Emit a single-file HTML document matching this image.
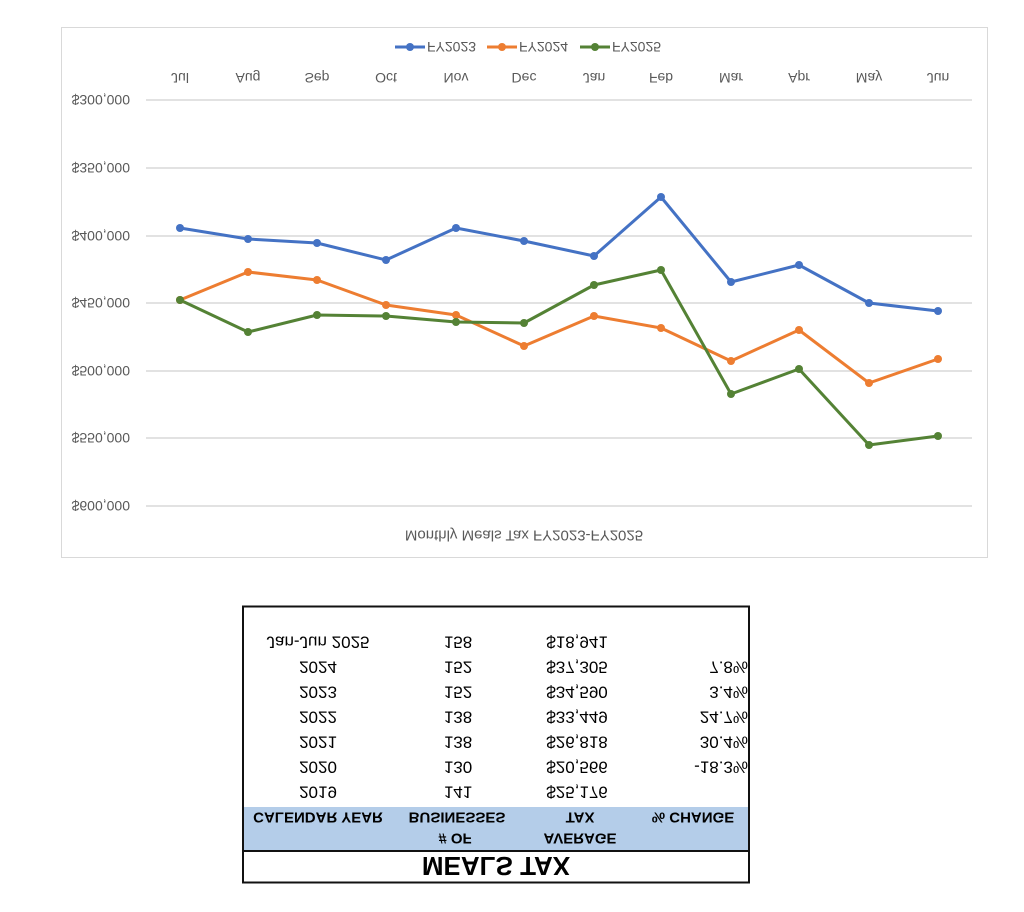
<!DOCTYPE html>
<html><head><meta charset="utf-8"><style>
html,body{margin:0;padding:0;background:#fff;}
svg{display:block;font-family:"Liberation Sans",Arial,sans-serif;}
</style></head><body>
<svg width="1024" height="912" viewBox="0 0 1024 912" xmlns="http://www.w3.org/2000/svg">
<rect x="61.5" y="27.5" width="926" height="530" fill="#fff" stroke="#d9d9d9"/>
<g stroke="#d9d9d9" stroke-width="1.5">
<line x1="146" x2="972" y1="100" y2="100"/><line x1="146" x2="972" y1="168" y2="168"/>
<line x1="146" x2="972" y1="236" y2="236"/><line x1="146" x2="972" y1="303" y2="303"/>
<line x1="146" x2="972" y1="371" y2="371"/><line x1="146" x2="972" y1="438" y2="438"/>
<line x1="146" x2="972" y1="506" y2="506"/>
</g>
<g font-size="14" fill="#595959" dominant-baseline="central" text-anchor="end">
<text transform="translate(130,100) scale(1,-1)">$300,000</text>
<text transform="translate(130,168) scale(1,-1)">$350,000</text>
<text transform="translate(130,236) scale(1,-1)">$400,000</text>
<text transform="translate(130,303) scale(1,-1)">$450,000</text>
<text transform="translate(130,371) scale(1,-1)">$500,000</text>
<text transform="translate(130,438) scale(1,-1)">$550,000</text>
<text transform="translate(130,506) scale(1,-1)">$600,000</text>
</g>
<g font-size="14" fill="#595959" dominant-baseline="central" text-anchor="middle">
<text transform="translate(180,78) scale(1,-1)">Jul</text>
<text transform="translate(248,78) scale(1,-1)">Aug</text>
<text transform="translate(317,78) scale(1,-1)">Sep</text>
<text transform="translate(386,78) scale(1,-1)">Oct</text>
<text transform="translate(456,78) scale(1,-1)">Nov</text>
<text transform="translate(524,78) scale(1,-1)">Dec</text>
<text transform="translate(594,78) scale(1,-1)">Jan</text>
<text transform="translate(661,78) scale(1,-1)">Feb</text>
<text transform="translate(731,78) scale(1,-1)">Mar</text>
<text transform="translate(799,78) scale(1,-1)">Apr</text>
<text transform="translate(869,78) scale(1,-1)">May</text>
<text transform="translate(938,78) scale(1,-1)">Jun</text>
<text transform="translate(524,535) scale(1,-1)" font-size="15">Monthly Meals Tax FY2023-FY2025</text>
</g>
<g fill="none" stroke-width="3" stroke-linejoin="round">
<polyline stroke="#4472c4" points="180,228 248,239 317,243 386,260 456,228 524,241 594,256 661,197 731,282 799,265 869,303 938,311"/>
<polyline stroke="#ed7d31" points="180,300 248,272 317,280 386,305 456,315 524,346 594,316 661,328 731,361 799,330 869,383 938,359"/>
<polyline stroke="#548235" points="180,300 248,332 317,315 386,316 456,322 524,323 594,285 661,270 731,394 799,369 869,445 938,436"/>
</g>
<g fill="#4472c4"><circle cx="180" cy="228" r="4"/><circle cx="248" cy="239" r="4"/><circle cx="317" cy="243" r="4"/><circle cx="386" cy="260" r="4"/><circle cx="456" cy="228" r="4"/><circle cx="524" cy="241" r="4"/><circle cx="594" cy="256" r="4"/><circle cx="661" cy="197" r="4"/><circle cx="731" cy="282" r="4"/><circle cx="799" cy="265" r="4"/><circle cx="869" cy="303" r="4"/><circle cx="938" cy="311" r="4"/></g>
<g fill="#ed7d31"><circle cx="180" cy="300" r="4"/><circle cx="248" cy="272" r="4"/><circle cx="317" cy="280" r="4"/><circle cx="386" cy="305" r="4"/><circle cx="456" cy="315" r="4"/><circle cx="524" cy="346" r="4"/><circle cx="594" cy="316" r="4"/><circle cx="661" cy="328" r="4"/><circle cx="731" cy="361" r="4"/><circle cx="799" cy="330" r="4"/><circle cx="869" cy="383" r="4"/><circle cx="938" cy="359" r="4"/></g>
<g fill="#548235"><circle cx="180" cy="300" r="4"/><circle cx="248" cy="332" r="4"/><circle cx="317" cy="315" r="4"/><circle cx="386" cy="316" r="4"/><circle cx="456" cy="322" r="4"/><circle cx="524" cy="323" r="4"/><circle cx="594" cy="285" r="4"/><circle cx="661" cy="270" r="4"/><circle cx="731" cy="394" r="4"/><circle cx="799" cy="369" r="4"/><circle cx="869" cy="445" r="4"/><circle cx="938" cy="436" r="4"/></g>
<g stroke-width="3"><line x1="395" x2="425" y1="47" y2="47" stroke="#4472c4"/><line x1="487" x2="517" y1="47" y2="47" stroke="#ed7d31"/><line x1="580" x2="610" y1="47" y2="47" stroke="#548235"/></g>
<circle cx="410" cy="47" r="4" fill="#4472c4"/><circle cx="502" cy="47" r="4" fill="#ed7d31"/><circle cx="595" cy="47" r="4" fill="#548235"/>
<g font-size="14" fill="#595959" dominant-baseline="central">
<text transform="translate(427,47) scale(1,-1)">FY2023</text>
<text transform="translate(519,47) scale(1,-1)">FY2024</text>
<text transform="translate(612,47) scale(1,-1)">FY2025</text>
</g>
<!-- table -->
<rect x="243" y="807" width="506" height="44" fill="#b4cde9"/>
<rect x="243" y="606.5" width="506" height="276" fill="none" stroke="#111" stroke-width="2"/>
<line x1="243" x2="749" y1="851" y2="851" stroke="#111" stroke-width="2"/>
<text transform="translate(496,866) scale(1,-1)" font-size="26" font-weight="bold" text-anchor="middle" dominant-baseline="central">MEALS TAX</text>
<g font-size="15" font-weight="bold" dominant-baseline="central" text-anchor="middle">
<text transform="translate(318,817) scale(1,-1)">CALENDAR YEAR</text>
<text transform="translate(457,817) scale(1,-1)">BUSINESSES</text>
<text transform="translate(580,817) scale(1,-1)">TAX</text>
<text transform="translate(693,817) scale(1,-1)">% CHANGE</text>
<text transform="translate(455,838) scale(1,-1)">&#35; OF</text>
<text transform="translate(580,838) scale(1,-1)">AVERAGE</text>
</g>
<g font-size="17" dominant-baseline="central" text-anchor="middle">
<text transform="translate(318,792) scale(1,-1)">2019</text><text transform="translate(458,792) scale(1,-1)">141</text><text transform="translate(577,792) scale(1,-1)">$25,176</text>
<text transform="translate(318,767) scale(1,-1)">2020</text><text transform="translate(458,767) scale(1,-1)">130</text><text transform="translate(577,767) scale(1,-1)">$20,566</text>
<text transform="translate(318,742) scale(1,-1)">2021</text><text transform="translate(458,742) scale(1,-1)">138</text><text transform="translate(577,742) scale(1,-1)">$26,818</text>
<text transform="translate(318,717) scale(1,-1)">2022</text><text transform="translate(458,717) scale(1,-1)">138</text><text transform="translate(577,717) scale(1,-1)">$33,449</text>
<text transform="translate(318,692) scale(1,-1)">2023</text><text transform="translate(458,692) scale(1,-1)">152</text><text transform="translate(577,692) scale(1,-1)">$34,590</text>
<text transform="translate(318,667) scale(1,-1)">2024</text><text transform="translate(458,667) scale(1,-1)">152</text><text transform="translate(577,667) scale(1,-1)">$37,305</text>
<text transform="translate(318,642) scale(1,-1)">Jan-Jun 2025</text><text transform="translate(458,642) scale(1,-1)">158</text><text transform="translate(577,642) scale(1,-1)">$18,941</text>
</g>
<g font-size="17" dominant-baseline="central" text-anchor="end">
<text transform="translate(748,767) scale(1,-1)">-18.3%</text>
<text transform="translate(748,742) scale(1,-1)">30.4%</text>
<text transform="translate(748,717) scale(1,-1)">24.7%</text>
<text transform="translate(748,692) scale(1,-1)">3.4%</text>
<text transform="translate(748,667) scale(1,-1)">7.8%</text>
</g>
</svg>
</body></html>
